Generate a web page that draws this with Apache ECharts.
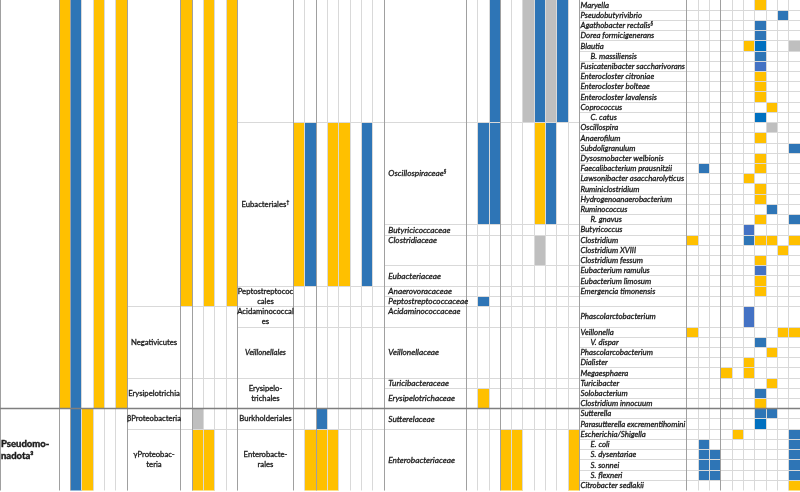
<!DOCTYPE html>
<html>
<head>
<meta charset="utf-8">
<script src="https://cdn.jsdelivr.net/npm/echarts@6/dist/echarts.min.js"></script>
<style>html,body{margin:0;padding:0;background:#fff}#c{width:800px;height:492px}</style>
</head>
<body>
<div id="c"></div>
<script>
// ================= DATA =================
// mark codes per column: Y = yellow, B = blue, D = bright blue, L = light blue, G = grey, . = empty
const phylumNames = ['', 'Pseudomo-\nnadota³'];
const phylumSpans = [40, 8];
const phylumMarks = ['YB.Y.Y', '.BY...'];

const classNames = ['', 'Negativicutes', 'Erysipelotrichia', 'βProteobacteria', 'γProteobac-\nteria'];
const classSpans = [30, 7, 3, 2, 6];
const classMarks = ['Y.Y.Y', '.....', '.....', '.G...', '.YY..'];

const orderNames = ['', 'Eubacteriales†', 'Peptostreptococ\ncales', 'Acidaminococcal\nes', 'Veillonellales',
  'Erysipelo-\ntrichales', 'Burkholderiales', 'Enterobacte-\nrales'];
const orderSpans = [12, 16, 2, 2, 5, 3, 2, 6];
const orderMarks = ['........', 'YB.YY.B.', '........', '........', '........', '........', '..B.....', '.YYY....'];
const orderItalic = ['Veillonellales'];

const familyNames = ['', 'Oscillospiraceae§', 'Butyricicoccaceae', 'Clostridiaceae', 'Eubacteriaceae',
  'Anaerovoracaceae', 'Peptostreptococcaceae', 'Acidaminococcaceae', 'Veillonellaceae', 'Turicibacteraceae',
  'Erysipelotrichaceae', 'Sutterelaceae', 'Enterobacteriaceae'];
const familySpans = [12, 10, 1, 3, 2, 1, 1, 2, 5, 1, 2, 2, 6];
const familyMarks = ['..B..GBGB.', '.BB...YB..', '..........', '......G...', '..........', '..........',
  '.B........', '..........', '..........', '..........', '.Y........', '..........', '...YY....Y'];

const genusNames = ['Maryella', 'Pseudobutyrivibrio', 'Agathobacter rectalis§', 'Dorea formicigenerans', 'Blautia',
  'B. massiliensis', 'Fusicatenibacter saccharivorans', 'Enterocloster citroniae', 'Enterocloster bolteae',
  'Enterocloster lavalensis', 'Coprococcus', 'C. catus', 'Oscillospira', 'Anaerofilum', 'Subdoligranulum',
  'Dysosmobacter welbionis', 'Faecalibacterium prausnitzii', 'Lawsonibacter asaccharolyticus', 'Ruminiclostridium',
  'Hydrogenoanaerobacterium', 'Ruminococcus', 'R. gnavus', 'Butyricoccus', 'Clostridium', 'Clostridium XVIII',
  'Clostridium fessum', 'Eubacterium ramulus', 'Eubacterium limosum', 'Emergencia timonensis', '',
  'Phascolarctobacterium', 'Veillonella', 'V. dispar', 'Phascolarcobacterium', 'Dialister', 'Megaesphaera',
  'Turicibacter', 'Solobacterium', 'Clostridium innocuum', 'Sutterella', 'Parasutterella excrementihomini',
  'Escherichia/Shigella', 'E. coli', 'S. dysentariae', 'S. sonnei', 'S. flexneri', 'Citrobacter sedlakii'];
const genusRowSpan = {'Phascolarctobacterium': 2};
const genusMarks = ['......Y...', '........B.', '......B...', '......B...', '.....YD..G',
  '......B...', '......L...', '......Y...', '......Y...',
  '......Y...', '.......Y..', '......D...', '.......G..', '......Y...', '.........B',
  '......Y...', '.B....Y...', '.....Y....', '......Y...',
  '......Y...', '.......B..', '......Y..B', '.....L....', 'Y....BYY.Y', '........Y.',
  '......Y...', '......L...', '......Y...', '......Y...', '..........',
  '.....L....', 'Y.......YY', '......B...', '.......Y..', '.....Y....', '...Y.Y....',
  '.......Y..', '......B...', '......Y...', '......BB..', '......D...',
  '....Y....B', '.B.......B', '.BB......B', '.BB......B', '.BB......B', '.........Y'];

// ================= STYLE / LAYOUT =================
const COLORS = {Y: '#FFC000', B: '#2E75B6', D: '#0070C0', L: '#4472C4', G: '#BFBFBF'};
const LIGHT = '#D9D9D9', DARK = '#A0A0A0', SECTION = '#7F7F7F';
const FONT = 'Lato, "Open Sans", sans-serif';
const TEXT_COLOR = '#1A1A1A';
const familyTopAligned = ['Clostridiaceae', 'Acidaminococcaceae'];
const FONT_SIZES = {phylum: 9.5, mid: 7.7, family: 8.3, genus: 7.9};
const STROKE_W = {phylum: 0.45, mid: 0.3, family: 0.3, genus: 0.3};

const levels = [
  {key: 'phylum', names: phylumNames, spans: phylumSpans, marks: phylumMarks, textW: 59.3, nCols: 6, colW: 11.33, sub: [1]},
  {key: 'class', names: classNames, spans: classSpans, marks: classMarks, textW: 53.4, nCols: 5, colW: 11.4, sub: [1]},
  {key: 'order', names: orderNames, spans: orderSpans, marks: orderMarks, textW: 55.6, nCols: 8, colW: 11.375, sub: [2]},
  {key: 'family', names: familyNames, spans: familySpans, marks: familyMarks, textW: 82.4, nCols: 10, colW: 11.26, sub: [3]},
  {key: 'genus', names: genusNames, spans: genusNames.map(n => genusRowSpan[n] || 1), marks: genusMarks, textW: 107.4, nCols: 10, colW: 11.332, sub: [3]}
];
const TOTAL_ROWS = 48;

let cx = 0;
levels.forEach(L => { L.textX0 = cx; cx += L.textW; L.colX0 = cx; cx += L.nCols * L.colW; L.colX1 = cx; });
const XMAX = cx;

// ================= BUILD =================
const cells = [];   // [x0, x1, y0, y1, code]
const texts = [];   // [x, y, text, kind, italic, align]
const lines = [];   // [x0, y0, x1, y1, color, width]

levels.forEach(L => {
  let y = 0;
  L.names.forEach((name, bi) => {
    const span = L.spans[bi];
    const y0 = y, y1 = y + span;
    const m = L.marks[bi];
    for (let i = 0; i < m.length; i++) {
      if (m[i] !== '.') cells.push([L.colX0 + i * L.colW, L.colX0 + (i + 1) * L.colW, y0, y1, m[i]]);
    }
    if (name) {
      if (L.key === 'phylum') texts.push([L.textX0 + 1, (y0 + y1) / 2, name, 'phylum', false, 'left']);
      else if (L.key === 'class') texts.push([L.textX0 + L.textW / 2, (y0 + y1) / 2, name, 'mid', false, 'center']);
      else if (L.key === 'order') texts.push([L.textX0 + L.textW / 2, (y0 + y1) / 2, name, 'mid', orderItalic.includes(name), 'center']);
      else if (L.key === 'family') {
        const yy = familyTopAligned.includes(name) ? y0 + 0.5 : (y0 + y1) / 2;
        texts.push([L.textX0 + 4, yy, name, 'family', true, 'left']);
      } else {
        const indent = /^[A-Z]\. /.test(name) ? 10 : 0;
        texts.push([L.textX0 + 1.2 + indent, (y0 + y1) / 2, name, 'genus', true, 'left']);
      }
    }
    y = y1;
    if (y < TOTAL_ROWS) lines.push([L.textX0, y, L.colX1, y, LIGHT, 1]);
  });
  for (let i = 1; i < L.nCols; i++) {
    const dark = L.sub.includes(i);
    lines.push([L.colX0 + i * L.colW, 0, L.colX0 + i * L.colW, TOTAL_ROWS, dark ? DARK : LIGHT, 1]);
  }
  lines.push([L.colX1, 0, L.colX1, TOTAL_ROWS, LIGHT, 1]);
});
levels.forEach(L => {
  if (L.textX0 > 0) lines.push([L.textX0, 0, L.textX0, TOTAL_ROWS, DARK, 1]);
  lines.push([L.colX0, 0, L.colX0, TOTAL_ROWS, DARK, 1]);
});
lines.push([0.7, 0, 0.7, TOTAL_ROWS, DARK, 1]);
lines.push([0, 40, XMAX, 40, SECTION, 1.5]);

// ================= CHART =================
const chart = echarts.init(document.getElementById('c'), null, {renderer: 'canvas'});
const crisp = v => Math.round(v - 0.5) + 0.5;
function toRich(t) { return t.replace(/([§†])/g, '{s|$1}'); }

chart.setOption({
  animation: false,
  grid: {left: 0, right: 0, top: 0, bottom: 1.5},
  xAxis: {type: 'value', min: 0, max: XMAX, show: false},
  yAxis: {type: 'value', min: 0, max: TOTAL_ROWS, inverse: true, show: false},
  series: [
    {
      type: 'custom', data: cells.map((c, i) => [c[0], c[2], i]), silent: true, clip: false,
      renderItem: (params, api) => {
        const c = cells[params.dataIndex];
        const p0 = api.coord([c[0], c[2]]), p1 = api.coord([c[1], c[3]]);
        return {type: 'rect', shape: {x: p0[0], y: p0[1], width: p1[0] - p0[0], height: p1[1] - p0[1]},
          style: {fill: COLORS[c[4]]}};
      }
    },
    {
      type: 'custom', data: lines.map((l, i) => [l[0], l[1], i]), silent: true, clip: false,
      renderItem: (params, api) => {
        const l = lines[params.dataIndex];
        const p0 = api.coord([l[0], l[1]]), p1 = api.coord([l[2], l[3]]);
        const vertical = l[0] === l[2];
        const x1 = vertical ? crisp(p0[0]) : p0[0], x2 = vertical ? crisp(p1[0]) : p1[0];
        const y1 = vertical ? p0[1] : crisp(p0[1]), y2 = vertical ? p1[1] : crisp(p1[1]);
        return {type: 'line', shape: {x1, y1, x2, y2}, style: {stroke: l[4], lineWidth: l[5]}};
      }
    },
    {
      type: 'custom', data: texts.map((t, i) => [t[0], t[1], i]), silent: true, clip: false,
      renderItem: (params, api) => {
        const t = texts[params.dataIndex];
        const p = api.coord([t[0], t[1]]);
        const kind = t[3];
        const isPhylum = kind === 'phylum';
        const italic = t[4] ? 'italic' : 'normal';
        const weight = isPhylum ? 'bold' : 'normal';
        return {type: 'text', x: p[0], y: p[1], style: {
          text: toRich(t[2]), fill: TEXT_COLOR, stroke: TEXT_COLOR, lineWidth: STROKE_W[kind],
          font: italic + ' ' + weight + ' ' + FONT_SIZES[kind] + 'px ' + FONT,
          fontSize: FONT_SIZES[kind], fontFamily: FONT, fontWeight: weight, fontStyle: italic,
          align: t[5], verticalAlign: 'middle', lineHeight: isPhylum ? 12 : 10.2,
          rich: {s: {fontSize: 5.5, lineHeight: 10.2, verticalAlign: 'top', fontFamily: FONT, fill: TEXT_COLOR,
            fontStyle: italic, padding: [0, 0, 4, 0]}}
        }};
      }
    }
  ]
});
</script>
</body>
</html>
